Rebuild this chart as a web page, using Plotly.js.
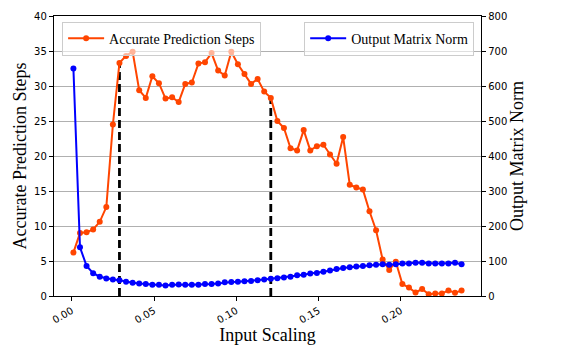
<!DOCTYPE html>
<html>
<head>
<meta charset="utf-8">
<script src="https://cdn.plot.ly/plotly-3.0.1.min.js"></script>
<style>
  html, body { margin: 0; padding: 0; background: #fff; }
  #chart { width: 568px; height: 349px; }
</style>
</head>
<body>
<div id="chart"></div>
<script>
// input scaling values (x)
let scaling = [
  0.001, 0.005, 0.009, 0.013, 0.017, 0.021, 0.025, 0.029, 0.033, 0.037,
  0.041, 0.045, 0.049, 0.053, 0.057, 0.061, 0.065, 0.069, 0.073, 0.077,
  0.081, 0.085, 0.089, 0.093, 0.097, 0.101, 0.105, 0.109, 0.113, 0.117,
  0.121, 0.125, 0.129, 0.133, 0.137, 0.141, 0.145, 0.149, 0.153, 0.157,
  0.161, 0.165, 0.169, 0.173, 0.177, 0.181, 0.185, 0.189, 0.193, 0.197,
  0.201, 0.205, 0.209, 0.213, 0.217, 0.221, 0.225, 0.229, 0.233, 0.237
];

let predSteps = [
  6.2, 9.0, 9.1, 9.5, 10.6, 12.7, 24.5, 33.3, 34.3, 34.9,
  29.4, 28.3, 31.4, 30.4, 28.2, 28.4, 27.7, 30.3, 30.5, 33.2,
  33.4, 34.7, 32.2, 31.5, 34.9, 33.1, 31.7, 30.3, 31.0, 29.2,
  28.3, 25.0, 24.0, 21.1, 20.8, 23.7, 20.8, 21.4, 21.6, 20.2,
  18.9, 22.7, 15.9, 15.5, 15.2, 12.1, 9.4, 5.2, 3.7, 4.9,
  1.7, 1.2, 0.5, 1.0, 0.25, 0.35, 0.35, 0.8, 0.45, 0.8
];

let matrixNorm = [
  650, 139, 86, 65, 55, 50, 47, 45, 41, 38,
  36, 34, 32, 32, 30, 32, 33, 32, 32, 32,
  34, 34, 36, 39, 40, 41, 42, 43, 45, 47,
  49, 51, 53, 55, 59, 61, 64, 66, 69, 73,
  77, 80, 82, 84, 86, 88, 89, 91, 89, 91,
  93, 93, 95, 95, 93, 93, 93, 93, 95, 91
];

// indices of the two marked points (dashed drop lines)
let markIdx = [7, 30];

let serif = 'Liberation Serif, Times New Roman, serif';
let sans = 'DejaVu Sans, sans-serif';

let traces = [];

markIdx.forEach(i => {
  traces.push({
    x: [scaling[i], scaling[i]],
    y: [0, predSteps[i]],
    type: 'scatter',
    mode: 'lines',
    line: { color: 'black', width: 2.8, dash: '8px,4px' },
    showlegend: false,
    hoverinfo: 'skip'
  });
});

traces.push({
  x: scaling,
  y: predSteps,
  type: 'scatter',
  mode: 'lines+markers',
  line: { color: '#ff4500', width: 2 },
  marker: { color: '#ff4500', size: 6 },
  name: 'Accurate Prediction Steps',
  legend: 'legend'
});

traces.push({
  x: scaling,
  y: matrixNorm,
  yaxis: 'y2',
  type: 'scatter',
  mode: 'lines+markers',
  line: { color: '#0000ff', width: 2 },
  marker: { color: '#0000ff', size: 6 },
  name: 'Output Matrix Norm',
  legend: 'legend2'
});

let layout = {
  width: 568,
  height: 349,
  margin: { l: 54, r: 87, t: 16, b: 53 },
  paper_bgcolor: 'white',
  plot_bgcolor: 'white',
  font: { family: sans, size: 10, color: 'black' },
  xaxis: {
    range: [-0.0108, 0.2488],
    tickvals: [0, 0.05, 0.10, 0.15, 0.20],
    tickformat: '.2f',
    tickangle: -30,
    ticks: 'outside',
    ticklen: 4,
    tickcolor: 'black',
    showgrid: false,
    zeroline: false,
    showline: true,
    linecolor: 'black',
    linewidth: 1.2,
    mirror: true,
    title: { text: 'Input Scaling', font: { family: serif, size: 18 }, standoff: 0 }
  },
  yaxis: {
    range: [0, 40],
    dtick: 5,
    ticks: 'outside',
    ticklen: 4,
    tickcolor: 'black',
    showgrid: true,
    gridcolor: '#b0b0b0',
    gridwidth: 1,
    zeroline: false,
    showline: true,
    linecolor: 'black',
    linewidth: 1.2,
    title: { text: 'Accurate Prediction Steps', font: { family: serif, size: 18 }, standoff: 2 }
  },
  yaxis2: {
    range: [0, 800],
    dtick: 100,
    overlaying: 'y',
    side: 'right',
    ticks: 'outside',
    ticklen: 4,
    tickcolor: 'black',
    showgrid: false,
    zeroline: false,
    showline: true,
    linecolor: 'black',
    linewidth: 1.2,
    title: { text: 'Output Matrix Norm', font: { family: serif, size: 18 }, standoff: 4 }
  },
  legend: {
    x: 0.019, y: 0.98, xanchor: 'left', yanchor: 'top',
    bgcolor: 'rgba(255,255,255,0.6)',
    bordercolor: '#cccccc', borderwidth: 1,
    font: { family: serif, size: 14 },
    itemwidth: 36
  },
  legend2: {
    x: 0.984, y: 0.98, xanchor: 'right', yanchor: 'top',
    bgcolor: 'rgba(255,255,255,0.6)',
    bordercolor: '#cccccc', borderwidth: 1,
    font: { family: serif, size: 14 },
    itemwidth: 36
  }
};

Plotly.newPlot('chart', traces, layout, { displayModeBar: false, staticPlot: true });
</script>
</body>
</html>
